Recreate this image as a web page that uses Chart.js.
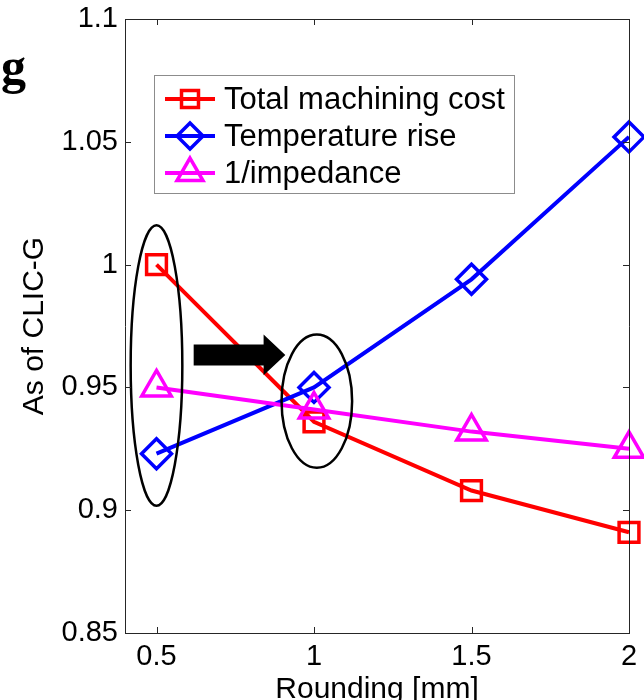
<!DOCTYPE html>
<html>
<head>
<meta charset="utf-8">
<title>Rounding study</title>
<script src="https://cdn.jsdelivr.net/npm/chart.js@4/dist/chart.umd.min.js"></script>
<style>
  html, body { margin: 0; padding: 0; background: #fff; }
  #wrap { width: 644px; height: 700px; }
</style>
</head>
<body>
<div id="wrap"><canvas id="chart" width="644" height="700"></canvas></div>
<script>
// --- Data ---
const rounding = [0.5, 1, 1.5, 2];
const machiningCost = [1.0, 0.936, 0.908, 0.891];
const temperatureRise = [0.923, 0.950, 0.994, 1.052];
const invImpedance = [0.950, 0.941, 0.932, 0.925];
const xTicks = [0.5, 1, 1.5, 2];
const yTicks = [0.85, 0.9, 0.95, 1, 1.05, 1.1];

const seriesNames = ['Total machining cost', 'Temperature rise', '1/impedance'];
const seriesColors = ['#ff0000', '#0000ff', '#ff00ff'];
const seriesMarkers = ['rect', 'rectRot', 'triangle'];
const markerRadius = [14, 15, 17];

// highlight shapes, in data units
const ellipses = [
  { x: 0.5, y: 0.9589, rx: 0.082, ry: 0.0571 },
  { x: 1.009, y: 0.9444, rx: 0.112, ry: 0.0271 }
];
const arrow = { x0: 0.618, x1: 0.840, xTip: 0.909, y: 0.9632, shaft: 0.0043, head: 0.0083 };

const FONT = "'Liberation Sans', Arial, sans-serif";
const AXIS = '#262626';

function toPoints(ys) {
  return rounding.map((x, i) => ({ x: x, y: ys[i] }));
}

function series(i, ys) {
  return {
    label: seriesNames[i],
    data: toPoints(ys),
    borderColor: seriesColors[i],
    backgroundColor: 'rgba(0,0,0,0)',
    borderWidth: 4,
    pointStyle: seriesMarkers[i],
    pointRadius: markerRadius[i],
    pointBorderWidth: 3.5,
    pointBorderColor: seriesColors[i],
    pointBackgroundColor: 'rgba(0,0,0,0)',
    tension: 0,
    clip: false,
    order: 2 - i
  };
}

// box on the top/right sides, inward tick marks on all four sides
const framePlugin = {
  id: 'frame',
  afterDraw(chart) {
    const { ctx, chartArea: a, scales: { x, y } } = chart;
    ctx.save();
    ctx.strokeStyle = AXIS;
    ctx.lineWidth = 1;
    ctx.beginPath();
    ctx.moveTo(a.left, a.top + 0.5);
    ctx.lineTo(a.right + 0.5, a.top + 0.5);
    ctx.lineTo(a.right + 0.5, a.bottom);
    const tl = 6;
    xTicks.forEach(v => {
      const px = Math.round(x.getPixelForValue(v)) + 0.5;
      ctx.moveTo(px, a.bottom); ctx.lineTo(px, a.bottom - tl);
      ctx.moveTo(px, a.top); ctx.lineTo(px, a.top + tl);
    });
    yTicks.forEach(v => {
      const py = Math.round(y.getPixelForValue(v)) + 0.5;
      ctx.moveTo(a.left, py); ctx.lineTo(a.left + tl, py);
      ctx.moveTo(a.right, py); ctx.lineTo(a.right - tl, py);
    });
    ctx.stroke();
    ctx.restore();
  }
};

// ellipses around the compared points and the block arrow
const highlightPlugin = {
  id: 'highlight',
  afterDatasetsDraw(chart) {
    const { ctx, scales: { x, y } } = chart;
    const pxPerX = x.getPixelForValue(1) - x.getPixelForValue(0);
    const pxPerY = y.getPixelForValue(0) - y.getPixelForValue(1);
    ctx.save();
    ctx.strokeStyle = '#000';
    ctx.lineWidth = 2.5;
    ellipses.forEach(e => {
      ctx.beginPath();
      ctx.ellipse(x.getPixelForValue(e.x), y.getPixelForValue(e.y),
        e.rx * pxPerX, e.ry * pxPerY, 0, 0, Math.PI * 2);
      ctx.stroke();
    });
    const x0 = x.getPixelForValue(arrow.x0);
    const x1 = x.getPixelForValue(arrow.x1);
    const xt = x.getPixelForValue(arrow.xTip);
    const yc = y.getPixelForValue(arrow.y);
    const hs = arrow.shaft * pxPerY;
    const hh = arrow.head * pxPerY;
    ctx.fillStyle = '#000';
    ctx.beginPath();
    ctx.moveTo(x0, yc - hs);
    ctx.lineTo(x1, yc - hs);
    ctx.lineTo(x1, yc - hh);
    ctx.lineTo(xt, yc);
    ctx.lineTo(x1, yc + hh);
    ctx.lineTo(x1, yc + hs);
    ctx.lineTo(x0, yc + hs);
    ctx.closePath();
    ctx.fill();
    ctx.restore();
  }
};

function drawMarker(ctx, style, cx, cy, r) {
  Chart.helpers.drawPoint(ctx, { pointStyle: style, rotation: 0, radius: r, borderWidth: 3.5 }, cx, cy);
}

// legend box with line + marker samples
const legendPlugin = {
  id: 'boxLegend',
  afterDraw(chart) {
    const { ctx } = chart;
    const box = { left: 154, top: 75, right: 514, bottom: 193 };
    ctx.save();
    ctx.fillStyle = '#fff';
    ctx.fillRect(box.left, box.top, box.right - box.left, box.bottom - box.top);
    ctx.strokeStyle = '#8c8c8c';
    ctx.lineWidth = 1;
    ctx.strokeRect(box.left + 0.5, box.top + 0.5, box.right - box.left, box.bottom - box.top);
    ctx.font = '31px ' + FONT;
    ctx.textBaseline = 'middle';
    ctx.textAlign = 'left';
    seriesNames.forEach((name, i) => {
      const ry = 99 + i * 37;
      ctx.strokeStyle = seriesColors[i];
      ctx.lineWidth = 4;
      ctx.beginPath();
      ctx.moveTo(165, ry);
      ctx.lineTo(215, ry);
      ctx.stroke();
      ctx.strokeStyle = seriesColors[i];
      ctx.fillStyle = 'rgba(0,0,0,0)';
      ctx.lineWidth = 3.5;
      drawMarker(ctx, seriesMarkers[i], 190, ry, markerRadius[i] - 2);
      ctx.fillStyle = '#000';
      ctx.fillText(name, 224, ry + 1);
    });
    ctx.restore();
  }
};

// cropped heading fragment at the top left
const headingPlugin = {
  id: 'heading',
  afterDraw(chart) {
    const { ctx } = chart;
    ctx.save();
    ctx.fillStyle = '#000';
    ctx.font = "bold 50px 'Liberation Serif', serif";
    ctx.textAlign = 'right';
    ctx.textBaseline = 'alphabetic';
    ctx.fillText('g', 26, 83);
    ctx.restore();
  }
};

new Chart(document.getElementById('chart'), {
  type: 'line',
  data: {
    datasets: [
      series(0, machiningCost),
      series(1, temperatureRise),
      series(2, invImpedance)
    ]
  },
  options: {
    responsive: false,
    animation: false,
    devicePixelRatio: 1,
    layout: { autoPadding: false, padding: { top: 19, right: 15, left: 0, bottom: 0 } },
    plugins: { legend: { display: false }, tooltip: { enabled: false } },
    scales: {
      x: {
        type: 'linear',
        min: 0.4,
        max: 2,
        afterFit(scale) {
          scale.height = 67;
          scale.paddingLeft = 0;
          scale.paddingRight = 0;
        },
        afterBuildTicks(scale) { scale.ticks = xTicks.map(v => ({ value: v })); },
        grid: { display: false, drawTicks: false },
        border: { display: true, color: AXIS, width: 1 },
        ticks: {
          color: '#000',
          font: { family: FONT, size: 29 },
          padding: 7,
          maxRotation: 0,
          callback: v => String(v)
        },
        title: {
          display: true,
          text: 'Rounding [mm]',
          color: '#000',
          font: { family: FONT, size: 30, lineHeight: 0.7 },
          padding: 0
        }
      },
      y: {
        type: 'linear',
        min: 0.85,
        max: 1.1,
        afterFit(scale) {
          scale.width = 125;
          scale.paddingTop = 0;
          scale.paddingBottom = 0;
        },
        afterBuildTicks(scale) { scale.ticks = yTicks.map(v => ({ value: v })); },
        grid: { display: false, drawTicks: false },
        border: { display: true, color: AXIS, width: 1 },
        ticks: {
          color: '#000',
          font: { family: FONT, size: 29 },
          padding: 7,
          callback: v => String(Math.round(v * 100) / 100)
        },
        title: {
          display: true,
          text: 'As of CLIC-G',
          color: '#000',
          font: { family: FONT, size: 30 },
          padding: { top: 17, bottom: 0 }
        }
      }
    }
  },
  plugins: [framePlugin, highlightPlugin, legendPlugin, headingPlugin]
});
</script>
</body>
</html>
